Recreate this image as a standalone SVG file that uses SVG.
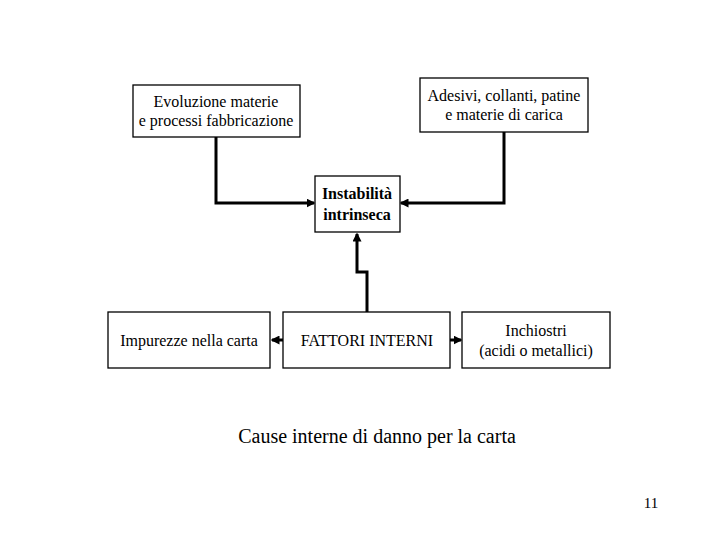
<svg xmlns="http://www.w3.org/2000/svg" width="720" height="540" viewBox="0 0 720 540">
<style>
.b{fill:#fff;stroke:#000;stroke-width:1.3}
.t{font-family:"Liberation Serif",serif;font-size:16px;fill:#000;text-anchor:middle}
.c{fill:none;stroke:#000;stroke-width:3}
</style>
<defs><marker id="a" markerWidth="3" markerHeight="3" refX="2.5" refY="1.5" orient="auto" markerUnits="strokeWidth"><path d="M0,0L3,1.5L0,3z" fill="#000"/></marker></defs>
<rect width="720" height="540" fill="#fff"/>
<g id="connectors">
<path class="c" d="M216,137V203H314" marker-end="url(#a)"/>
<path class="c" d="M504,132V203H401" marker-end="url(#a)"/>
<path class="c" d="M367,312V272H357V234" marker-end="url(#a)"/>
<path class="c" d="M283,340H272" marker-end="url(#a)"/>
<path class="c" d="M450,340H461" marker-end="url(#a)"/>
</g>
<g id="evoluzione"><rect class="b" x="133" y="85" width="167" height="52"/><text class="t" x="216" y="107">Evoluzione materie</text><text class="t" x="216" y="126">e processi fabbricazione</text></g>
<g id="adesivi"><rect class="b" x="420" y="78" width="168" height="54"/><text class="t" x="504" y="101">Adesivi, collanti, patine</text><text class="t" x="504" y="120">e materie di carica</text></g>
<g id="instabilita"><rect class="b" x="315" y="176" width="85" height="56"/><text class="t" x="357" y="199" font-weight="bold" font-size="17">Instabilità</text><text class="t" x="357" y="220" font-weight="bold" font-size="17">intrinseca</text></g>
<g id="impurezze"><rect class="b" x="108" y="312" width="162" height="56"/><text class="t" x="189" y="346">Impurezze nella carta</text></g>
<g id="fattori"><rect class="b" x="283" y="312" width="167" height="56"/><text class="t" x="367" y="346">FATTORI INTERNI</text></g>
<g id="inchiostri"><rect class="b" x="462" y="312" width="148" height="56"/><text class="t" x="536" y="336">Inchiostri</text><text class="t" x="536" y="356">(acidi o metallici)</text></g>
<text class="t" x="377" y="443" style="font-size:20px">Cause interne di danno per la carta</text>
<text class="t" x="651" y="508" style="font-size:15px">11</text>
</svg>
